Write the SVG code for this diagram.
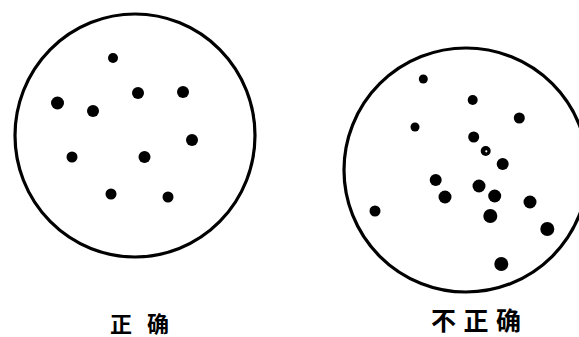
<svg xmlns="http://www.w3.org/2000/svg" width="579" height="337" viewBox="0 0 579 337">
<style>
.dish{fill:none;stroke:#000;stroke-width:3.2}
.d{fill:#000}
.lbl{font-family:"Noto Sans CJK SC","Noto Sans CJK JP",sans-serif;font-weight:bold;fill:#000}
</style>
<rect width="579" height="337" fill="#fff"/>
<g id="correct">
<ellipse class="dish" cx="135" cy="135.5" rx="120" ry="121.5"/>
<circle class="d" cx="113" cy="58" r="5"/>
<circle class="d" cx="138" cy="93" r="6"/>
<circle class="d" cx="183" cy="92" r="6"/>
<circle class="d" cx="57.5" cy="103" r="6.5"/>
<circle class="d" cx="93" cy="111" r="6"/>
<circle class="d" cx="192" cy="140" r="6"/>
<circle class="d" cx="72" cy="157" r="5.5"/>
<circle class="d" cx="144.5" cy="157" r="6"/>
<circle class="d" cx="111" cy="194" r="5.5"/>
<circle class="d" cx="168" cy="197" r="5.5"/>
<text class="lbl" x="110" y="331.5" font-size="22" textLength="59" lengthAdjust="spacing">正确</text>
</g>
<g id="incorrect">
<circle class="dish" cx="466" cy="170" r="122"/>
<circle class="d" cx="423.3" cy="79" r="4.5"/>
<circle class="d" cx="472.7" cy="100" r="5"/>
<circle class="d" cx="519.3" cy="118" r="5.5"/>
<circle class="d" cx="415" cy="127" r="4.5"/>
<circle class="d" cx="473.7" cy="137" r="5.5"/>
<circle class="d" cx="485.7" cy="151" r="5"/>
<circle cx="486.3" cy="151.3" r="1.1" fill="#fff"/>
<circle class="d" cx="502.7" cy="164" r="6"/>
<circle class="d" cx="435.7" cy="180" r="6"/>
<circle class="d" cx="479" cy="186" r="6.5"/>
<circle class="d" cx="445" cy="197" r="6.5"/>
<circle class="d" cx="494.7" cy="196" r="6.5"/>
<circle class="d" cx="530" cy="202" r="6.5"/>
<circle class="d" cx="375" cy="211" r="5.5"/>
<circle class="d" cx="490.3" cy="216" r="7"/>
<circle class="d" cx="547.3" cy="229" r="7"/>
<circle class="d" cx="501.3" cy="264" r="7"/>
<text class="lbl" x="431" y="330" font-size="25" textLength="90" lengthAdjust="spacing">不正确</text>
</g>
<g id="connectors"/>
</svg>
